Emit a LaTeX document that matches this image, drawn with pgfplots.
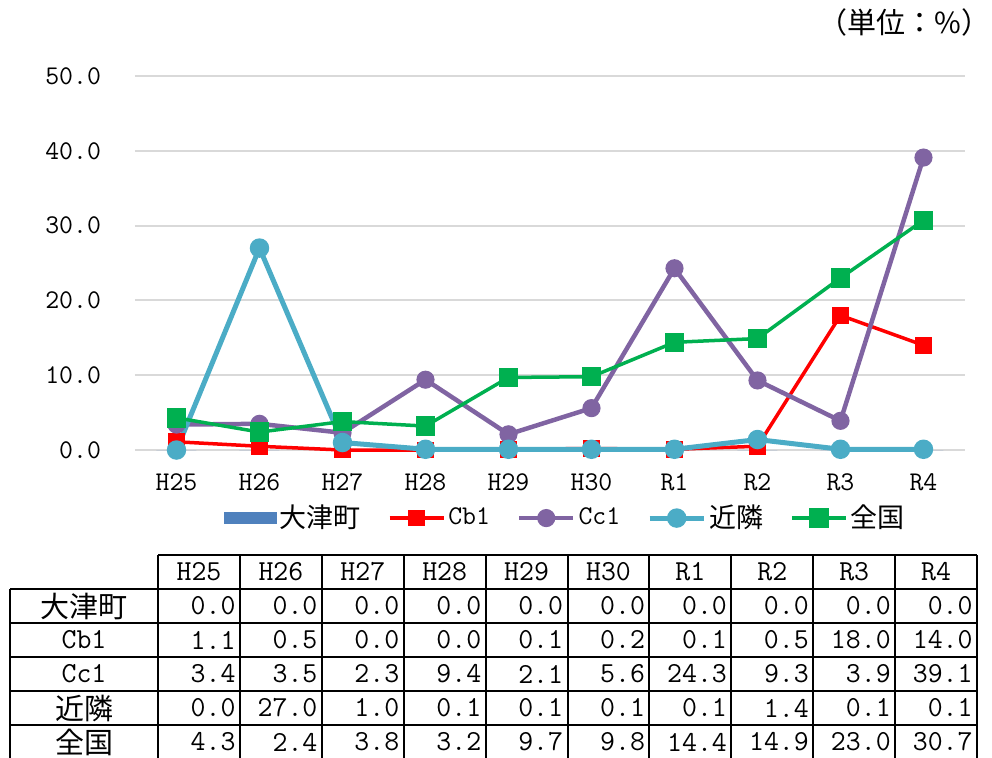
\documentclass[border=0pt]{standalone}
\usepackage{fontspec}
\usepackage{pgfplots}
\usepackage{pgfplotstable}
\pgfplotsset{compat=1.18}
\newfontfamily\jp{Noto Sans CJK JP}

\definecolor{otsu}{HTML}{4F81BD}
\definecolor{cbred}{HTML}{FF0000}
\definecolor{ccpurple}{HTML}{8064A2}
\definecolor{kinrin}{HTML}{4BACC6}
\definecolor{zenkoku}{HTML}{00B050}
\definecolor{gridgray}{HTML}{D9D9D9}

% x: H25..R4 as 0..9
\pgfplotstableread{
x Otsu Cb1 Cc1 Kinrin Zenkoku
0 0.0 1.1 3.4 0.0 4.3
1 0.0 0.5 3.5 27.0 2.4
2 0.0 0.0 2.3 1.0 3.8
3 0.0 0.0 9.4 0.1 3.2
4 0.0 0.1 2.1 0.1 9.7
5 0.0 0.2 5.6 0.1 9.8
6 0.0 0.1 24.3 0.1 14.4
7 0.0 0.5 9.3 1.4 14.9
8 0.0 18.0 3.9 0.1 23.0
9 0.0 14.0 39.1 0.1 30.7
}\data

\newcommand{\lblfont}{\ttfamily\fontsize{13.5}{16}\selectfont}
\newcommand{\tblfont}{\fontsize{14.5}{17}\selectfont}

\begin{document}
\begin{tikzpicture}
\useasboundingbox (0,0) rectangle (496pt,-378.5pt);

\begin{axis}[
  at={(67.5pt,-225pt)}, anchor=south west,
  scale only axis, width=415pt, height=187pt,
  xmin=-0.5, xmax=9.5, ymin=0, ymax=50,
  clip=false,
  xtick={0,...,9},
  xticklabels={H25,H26,H27,H28,H29,H30,R1,R2,R3,R4},
  ytick={0,10,...,50},
  yticklabel={\pgfmathprintnumber[fixed,fixed zerofill,precision=1,assume math mode=true]{\tick}},
  ticklabel style={font=\lblfont},
  xticklabel style={anchor=north, yshift=-8.5pt},
  yticklabel style={anchor=east, xshift=-13.5pt},
  axis line style={draw=none},
  major tick length=0pt,
  ymajorgrids, grid style={gridgray, line width=1pt},
  legend style={at={(0.519,-0.182)}, anchor=center, draw=none, fill=none,
    font=\lblfont, legend columns=-1,
    nodes={inner xsep=1.5pt},
    /tikz/every even column/.append style={column sep=12pt}},
  legend image code/.code={\draw[mark repeat=2,mark phase=2]
    plot coordinates {(0pt,0pt) (13.5pt,0pt) (27pt,0pt)};},
]
  \addplot[ybar, bar width=20pt, fill=otsu, draw=none,
    legend image code/.code={\fill[otsu] (0pt,-2.8pt) rectangle (26.5pt,2.8pt);}]
    table[x=x, y=Otsu] {\data};
  \addlegendentry{{\jp 大津町}}
  \addplot[cbred, line width=1.75pt, mark=square*, mark size=3.3pt,
    mark options={solid}] table[x=x, y=Cb1] {\data};
  \addlegendentry{Cb1}
  \addplot[ccpurple, line width=2.25pt, mark=*, mark size=3.4pt]
    table[x=x, y=Cc1] {\data};
  \addlegendentry{Cc1}
  \addplot[kinrin, line width=2.5pt, mark=*, mark size=3.6pt]
    table[x=x, y=Kinrin] {\data};
  \addlegendentry{{\jp 近隣}}
  \addplot[zenkoku, line width=1.75pt, mark=square*, mark size=4pt]
    table[x=x, y=Zenkoku] {\data};
  \addlegendentry{{\jp 全国}}
\end{axis}

% unit label and table, in pixel units (origin top left)
\begin{scope}[x=0.5pt, y=-0.5pt]
  \node[anchor=east, inner sep=0pt] at (991,22) {\jp\tblfont （単位：\%）};

  \begin{scope}[line width=1pt, black]
    \draw (158,555) -- (977,555);
    \foreach \yy in {589,623,657,691,725,759}
      \draw (10,\yy) -- (977,\yy);
    \draw (10,589) -- (10,760);
    \foreach \i in {0,...,10}
      \draw ({158+81.9*\i},555) -- ({158+81.9*\i},760);
  \end{scope}

  \foreach \lab [count=\i from 0] in {H25,H26,H27,H28,H29,H30,R1,R2,R3,R4}
    \node at ({199+81.9*\i},572) {\ttfamily\tblfont \lab};

  \node at (84,606) {\jp\tblfont 大津町};
  \node at (84,640) {\ttfamily\tblfont Cb1};
  \node at (84,674) {\ttfamily\tblfont Cc1};
  \node at (84,708) {\jp\tblfont 近隣};
  \node at (84,742) {\jp\tblfont 全国};

  \foreach \rr/\col in {0/Otsu,1/Cb1,2/Cc1,3/Kinrin,4/Zenkoku} {
    \foreach \cc in {0,...,9} {
      \pgfplotstablegetelem{\cc}{\col}\of\data
      \node[anchor=east, inner sep=0pt] at ({158+81.9*(\cc+1)-4},{606+34*\rr})
        {\ttfamily\tblfont\pgfmathprintnumber[fixed,fixed zerofill,precision=1,assume math mode=true]{\pgfplotsretval}};
    }
  }
\end{scope}
\end{tikzpicture}
\end{document}
